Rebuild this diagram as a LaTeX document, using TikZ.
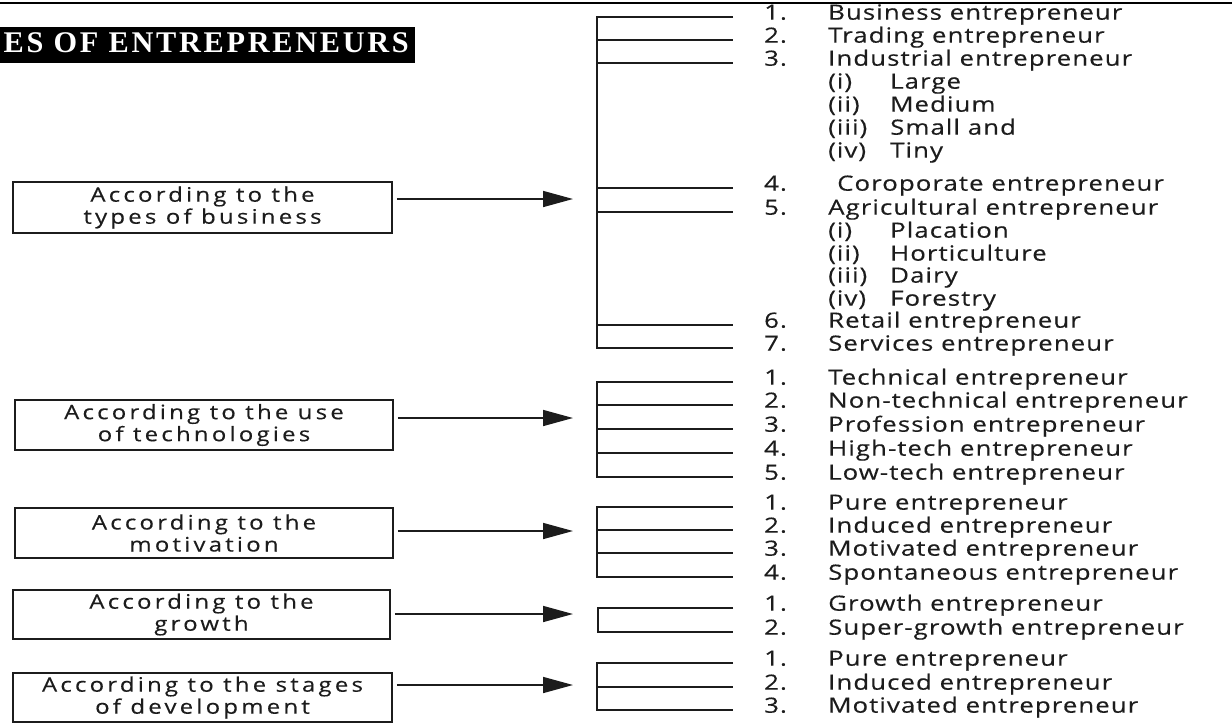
\documentclass[tikz,border=0pt]{standalone}
\usepackage{fontspec}
\setmainfont{Open Sans}
\newfontfamily\itemfont[LetterSpace=5,FakeStretch=1.23,FakeBold=0.3]{Open Sans}
\newfontfamily\boxfont[LetterSpace=16,FakeStretch=1.2,FakeBold=0.3]{Open Sans}
\newfontfamily\titlefont[LetterSpace=9,FakeStretch=1.01]{Liberation Serif}
\usetikzlibrary{arrows.meta}
\definecolor{ink}{HTML}{1C1C1C}
\tikzset{
  catbox/.style={draw=ink, line width=1.9pt, align=center, inner sep=0pt,
    minimum width=379pt, text=ink,
    font=\boxfont\fontsize{20}{22}\selectfont},
  num/.style={anchor=mid west, inner sep=0pt, text=ink,
    font=\itemfont\fontsize{21}{22}\selectfont},
  itext/.style={num},
  brk/.style={draw=ink, line width=1.9pt, line join=miter},
  arr/.style={draw=ink, line width=1.6pt, -{Triangle[length=30pt,width=16pt]}},
}
\newcommand\itemrow[4]{\node[num] (#1n) at (764,#2) {#3}; \node[itext] (#1t) at (828,#2) {#4};}
\newcommand\subrow[4]{\node[num] (#1n) at (828,#2) {#3}; \node[itext] (#1t) at (890,#2) {#4};}
\begin{document}
\begin{tikzpicture}[x=1pt,y=-1pt]
\useasboundingbox (0,0) rectangle (1232,724);
% top rule
\draw[line width=2pt] (0,3) -- (1232,3);
% title
\node[fill=black, minimum width=415pt, minimum height=36pt, inner sep=0pt, anchor=north west] (tbox) at (0,27) {};
\node[anchor=base east, inner sep=0pt, text=white, font=\titlefont\bfseries\fontsize{30}{30}\selectfont] (title) at (409,52) {ES OF ENTREPRENEURS};

% category boxes
\node[catbox, minimum height=51pt] (b1) at (202.5,207.5) {According to the\\types of business};
\node[catbox, minimum height=50pt, minimum width=378pt] (b2) at (204,425) {According to the use\\of technologies};
\node[catbox, minimum height=50pt, minimum width=378pt] (b3) at (204,533) {According to the\\motivation};
\node[catbox, minimum height=49pt, minimum width=377pt] (b4) at (201.5,614.5) {According to the\\growth};
\node[catbox, minimum height=49pt] (b5) at (202.5,697.5) {According to the stages\\of development};

% arrow tips
\coordinate (t1) at (573,199);
\coordinate (t2) at (573,418);
\coordinate (t3) at (573,531);
\coordinate (t4) at (573,614);
\coordinate (t5) at (573,685);
\draw[arr] ([xshift=4pt]b1.east |- t1) -- (t1);
\draw[arr] ([xshift=4pt]b2.east |- t2) -- (t2);
\draw[arr] ([xshift=4pt]b3.east |- t3) -- (t3);
\draw[arr] ([xshift=4pt]b4.east |- t4) -- (t4);
\draw[arr] ([xshift=4pt]b5.east |- t5) -- (t5);

% group 1 brackets
\draw[brk] (733,17) -- (597,17) -- (597,348) -- (733,348);
\foreach \y in {40,63,188,212,325} \draw[brk] (597,\y) -- (733,\y);
\itemrow{a1}{17}{1.}{Business entrepreneur}
\itemrow{a2}{40}{2.}{Trading entrepreneur}
\itemrow{a3}{63}{3.}{Industrial entrepreneur}
\subrow{a3i}{86}{(i)}{Large}
\subrow{a3ii}{109}{(ii)}{Medium}
\subrow{a3iii}{132}{(iii)}{Small and}
\subrow{a3iv}{155}{(iv)}{Tiny}
\node[num] (a4n) at (764,188) {4.};
\node[itext] (a4t) at (837,188) {Coroporate entrepreneur};
\itemrow{a5}{212}{5.}{Agricultural entrepreneur}
\subrow{a5i}{235}{(i)}{Placation}
\subrow{a5ii}{258}{(ii)}{Horticulture}
\subrow{a5iii}{280}{(iii)}{Dairy}
\subrow{a5iv}{303}{(iv)}{Forestry}
\itemrow{a6}{325}{6.}{Retail entrepreneur}
\itemrow{a7}{348}{7.}{Services entrepreneur}

% group 2
\draw[brk] (733,382) -- (597,382) -- (597,477) -- (733,477);
\foreach \y in {405,429,453} \draw[brk] (597,\y) -- (733,\y);
\itemrow{c1}{382}{1.}{Technical entrepreneur}
\itemrow{c2}{405}{2.}{Non-technical entrepreneur}
\itemrow{c3}{429}{3.}{Profession entrepreneur}
\itemrow{c4}{453}{4.}{High-tech entrepreneur}
\itemrow{c5}{477}{5.}{Low-tech entrepreneur}

% group 3
\draw[brk] (733,507) -- (597,507) -- (597,577) -- (733,577);
\foreach \y in {530,553} \draw[brk] (597,\y) -- (733,\y);
\itemrow{d1}{507}{1.}{Pure entrepreneur}
\itemrow{d2}{530}{2.}{Induced entrepreneur}
\itemrow{d3}{553}{3.}{Motivated entrepreneur}
\itemrow{d4}{577}{4.}{Spontaneous entrepreneur}

% group 4
\draw[brk] (733,608) -- (598,608) -- (598,632) -- (733,632);
\itemrow{e1}{608}{1.}{Growth entrepreneur}
\itemrow{e2}{632}{2.}{Super-growth entrepreneur}

% group 5
\draw[brk] (733,663) -- (597,663) -- (597,710) -- (733,710);
\draw[brk] (597,687) -- (733,687);
\itemrow{f1}{663}{1.}{Pure entrepreneur}
\itemrow{f2}{687}{2.}{Induced entrepreneur}
\itemrow{f3}{710}{3.}{Motivated entrepreneur}
\end{tikzpicture}
\end{document}
